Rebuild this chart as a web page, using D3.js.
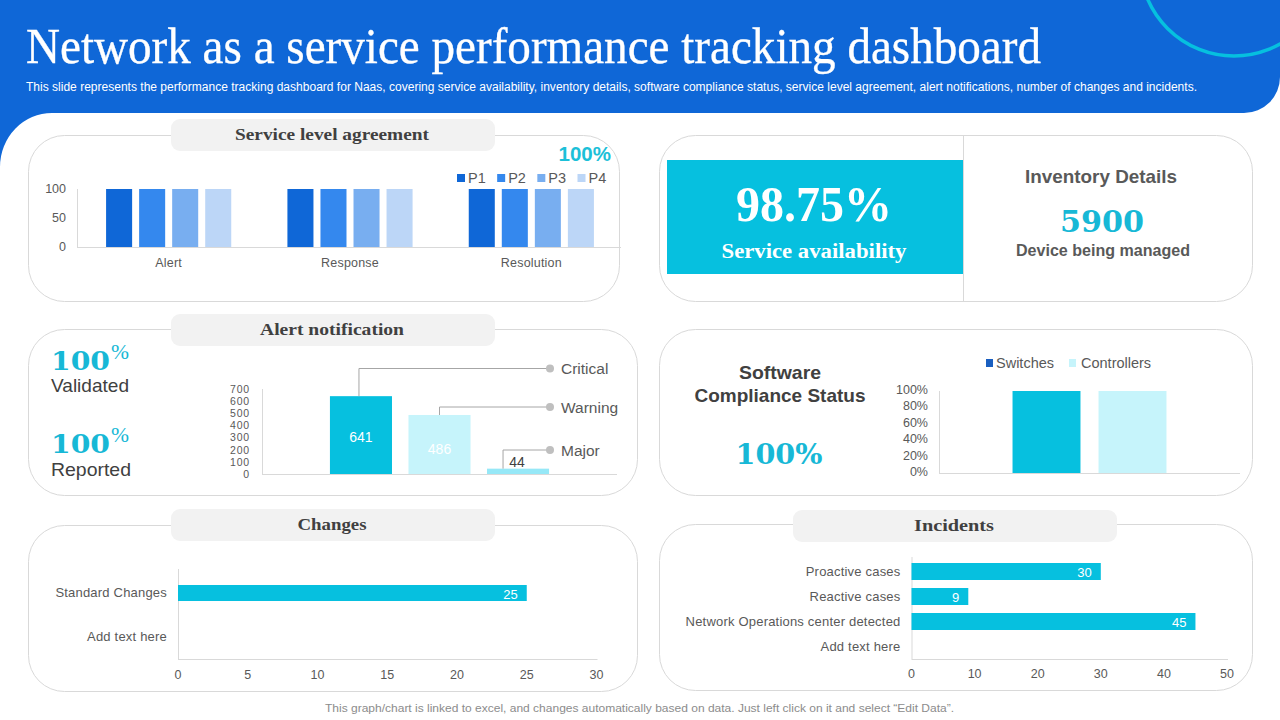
<!DOCTYPE html>
<html>
<head>
<meta charset="utf-8">
<script src="https://cdn.jsdelivr.net/npm/d3@7/dist/d3.min.js"></script>
<style>
html, body { margin: 0; padding: 0; background: #fff; }
svg { display: block; }
text { font-family: "Liberation Sans", sans-serif; }
.serif { font-family: "Liberation Serif", serif; font-weight: 700; }
.deja { font-family: "DejaVu Serif", serif; font-weight: 700; }
.axis path, .axis line { display: none; }
.axis text { font-family: "Liberation Sans", sans-serif; fill: #595959; }
</style>
</head>
<body>
<svg id="chart" width="1280" height="720"></svg>
<script>
const titleText = "Network as a service performance tracking dashboard";
const subtitleText = "This slide represents the performance tracking dashboard for Naas, covering service availability, inventory details, software compliance status, service level agreement, alert notifications, number of changes and incidents.";
const footerText = "This graph/chart is linked to excel,  and changes automatically based on data. Just left click on it and select \u201cEdit Data\u201d.";

const slaCategories = ["Alert", "Response", "Resolution"];
const slaSeries = ["P1", "P2", "P3", "P4"];
const slaValues = [
  [100, 100, 100, 100],
  [100, 100, 100, 100],
  [100, 100, 100, 100]
];
const slaTicks = [0, 50, 100];

const alertLevels = ["Critical", "Warning", "Major"];
const alertValues = [641, 486, 44];
const alertTicks = [0, 100, 200, 300, 400, 500, 600, 700];

const complianceSeries = ["Switches", "Controllers"];
const complianceValues = [100, 100];
const complianceTicks = [0, 20, 40, 60, 80, 100];

const changeCategories = ["Standard Changes", "Add text here"];
const changeValues = [25, null];
const changeTicks = [0, 5, 10, 15, 20, 25, 30];

const incidentCategories = ["Proactive cases", "Reactive cases", "Network Operations center detected", "Add text here"];
const incidentValues = [30, 9, 45, null];
const incidentTicks = [0, 10, 20, 30, 40, 50];

const blue = "#0f67d7", cyan = "#06c0df", paleCyan = "#c6f4fb", midCyan = "#96e8f7";
const slaColors = ["#0f67d7", "#3488ee", "#78aef0", "#bcd6f7"];
const alertColors = [cyan, paleCyan, midCyan];
const lineGrey = "#d9d9d9", textGrey = "#595959", darkGrey = "#404040";

const svg = d3.select("#chart");

// text helper, fit is the width the string should take up
const label = (x, y, str, o = {}) => {
  const t = svg.append("text")
    .attr("x", x).attr("y", y).attr("dy", o.dy ?? ".35em")
    .attr("text-anchor", o.anchor ?? "middle")
    .attr("font-size", o.size ?? 13)
    .attr("fill", o.fill ?? textGrey)
    .attr("font-weight", o.weight ?? 400)
    .text(str);
  if (o.cls) t.attr("class", o.cls);
  if (o.fit) t.attr("textLength", o.fit).attr("lengthAdjust", "spacingAndGlyphs");
  return t;
};

const card = (x, y, w, h) => svg.append("rect")
  .attr("x", x).attr("y", y).attr("width", w).attr("height", h).attr("rx", 36)
  .attr("fill", "#fff").attr("stroke", lineGrey).attr("stroke-width", 1);

const pill = (x, y, str, fit) => {
  svg.append("rect").attr("x", x).attr("y", y).attr("width", 324).attr("height", 32).attr("rx", 9).attr("fill", "#f2f2f2");
  label(x + 161, y + 14.5, str, { cls: "serif", size: 17.5, fill: darkGrey, fit });
};

const hLine = (x1, x2, y) => svg.append("line").attr("x1", x1).attr("x2", x2).attr("y1", y).attr("y2", y).attr("stroke", lineGrey);
const vLine = (x, y1, y2) => svg.append("line").attr("x1", x).attr("x2", x).attr("y1", y1).attr("y2", y2).attr("stroke", lineGrey);

const drawAxis = (gen, tx, ty, size) => svg.append("g")
  .attr("class", "axis")
  .attr("transform", `translate(${tx},${ty})`)
  .call(gen)
  .call(g => g.selectAll("text").attr("font-size", size));

// header
svg.append("path")
  .attr("d", "M0,0 H1280 V77 A36,36 0 0 1 1244,113 H52 A52,54 0 0 0 0,167 Z")
  .attr("fill", blue);
svg.append("circle").attr("cx", 1234).attr("cy", -38).attr("r", 94)
  .attr("fill", "none").attr("stroke", cyan).attr("stroke-width", 3.5);
label(26, 45, titleText, { anchor: "start", size: 51, fill: "#fff", fit: 1015 })
  .style("font-family", "'Liberation Serif', serif")
  .attr("stroke", "#fff").attr("stroke-width", .35);
label(26, 86.5, subtitleText, { anchor: "start", size: 12, fill: "#fff", fit: 1171 });

// cards
card(28.5, 135.5, 591, 166);
card(659.5, 135.5, 593, 166);
card(28.5, 329.5, 609, 166);
card(659.5, 329.5, 593, 166);
card(28.5, 525.5, 609, 166);
card(659.5, 524.5, 593, 166);

pill(171, 119, "Service level agreement", 194);
pill(171, 314, "Alert notification", 144);
pill(171, 509, "Changes", 69);
pill(793, 510, "Incidents", 80);

// service level agreement
{
  const x0 = d3.scaleBand().domain(slaCategories).range([78, 622]);
  const x1 = d3.scaleBand().domain(slaSeries).range([0, x0.bandwidth()]).paddingInner(.212).paddingOuter(.85);
  const y = d3.scaleLinear().domain([0, 100]).range([247, 189]);
  vLine(77.5, 189, 247);
  svg.append("g").selectAll("g").data(slaValues).join("g")
    .attr("transform", (d, i) => `translate(${x0(slaCategories[i])},0)`)
    .selectAll("rect").data(d => d).join("rect")
    .attr("x", (d, i) => x1(slaSeries[i]))
    .attr("width", x1.bandwidth())
    .attr("y", d => y(d))
    .attr("height", d => y(0) - y(d))
    .attr("fill", (d, i) => slaColors[i]);
  hLine(77, 621, 247.5);
  drawAxis(d3.axisLeft(y).tickValues(slaTicks).tickSize(0).tickPadding(11), 77, -1, 12.5);
  drawAxis(d3.axisBottom(x0).tickSize(0).tickPadding(11), 0, 247, 12.5)
    .call(g => g.selectAll("text").style("letter-spacing", ".2px"));

  label(611, 154, "100%", { anchor: "end", size: 20.5, weight: 700, fill: "#1cc0d8" });
  const legendX = d3.scalePoint().domain(slaSeries).range([457, 577.5]);
  slaSeries.forEach((s, i) => {
    svg.append("rect").attr("x", legendX(s)).attr("y", 174).attr("width", 8).attr("height", 8).attr("fill", slaColors[i]);
    label(legendX(s) + 11, 177.5, s, { anchor: "start", size: 14.5 });
  });
}

// service availability and inventory
svg.append("rect").attr("x", 667).attr("y", 160).attr("width", 296).attr("height", 114).attr("fill", cyan);
vLine(963.5, 135.5, 301.5);
label(814, 203, "98.75%", { cls: "serif", size: 50, fill: "#fff", fit: 156 });
label(814, 251, "Service availability", { cls: "serif", size: 20, fill: "#fff", fit: 185 });
label(1101, 177, "Inventory Details", { size: 18.5, weight: 700, fit: 152 });
label(1102, 222, "5900", { cls: "deja", size: 29, fill: "#17b8d6", fit: 84 });
label(1103, 250, "Device being managed", { size: 16, weight: 700, fit: 174 });

// alert notification
{
  const x = d3.scaleBand().domain(alertLevels).range([262, 617]).paddingInner(.21).paddingOuter(.865);
  const y = d3.scaleLinear().domain([0, 700]).range([474, 389]);
  vLine(262.5, 389, 474);
  hLine(262, 617, 474.5);
  svg.append("g").selectAll("rect").data(alertValues).join("rect")
    .attr("x", (d, i) => x(alertLevels[i]))
    .attr("width", x.bandwidth())
    .attr("y", d => y(d))
    .attr("height", d => y(0) - y(d))
    .attr("fill", (d, i) => alertColors[i]);
  // the ticks sit 12px apart, so the font has to stay small enough not to collide
  drawAxis(d3.axisLeft(y).tickValues(alertTicks).tickSize(0).tickPadding(12), 262, 0, 10.5)
    .call(g => g.selectAll("text").style("letter-spacing", ".8px"));

  // leader lines go from the top of the bar to the dot beside each name
  const leaderY = [368.5, 407, 450], leaderShift = [-2, 0, -15];
  alertLevels.forEach((name, i) => {
    const lx = x(name) + x.bandwidth() / 2 + leaderShift[i];
    svg.append("path")
      .attr("d", `M${lx},${y(alertValues[i])} V${leaderY[i]} H550`)
      .attr("fill", "none").attr("stroke", "#a6a6a6");
    svg.append("circle").attr("cx", 550).attr("cy", leaderY[i]).attr("r", 4).attr("fill", "#bfbfbf");
    label(561, leaderY[i] + .5, name, { anchor: "start", size: 15.5 });
  });
  const mid = d => x(d) + x.bandwidth() / 2;
  label(mid(alertLevels[0]), 437, alertValues[0], { size: 14, fill: "#fff" });
  label(mid(alertLevels[1]), 449, alertValues[1], { size: 14, fill: "#fff" });
  label(mid(alertLevels[2]) - 1, 462, alertValues[2], { size: 14, fill: darkGrey });

  label(51, 370, "100", { anchor: "start", dy: 0, cls: "deja", size: 26, fill: "#17b8d6", fit: 59 });
  label(111, 359, "%", { anchor: "start", dy: 0, size: 21, fill: "#17b8d6", fit: 18 }).style("font-family", "'Liberation Serif', serif");
  label(51, 386, "Validated", { anchor: "start", size: 18.5, fill: darkGrey, fit: 78 });
  label(51, 453, "100", { anchor: "start", dy: 0, cls: "deja", size: 26, fill: "#17b8d6", fit: 59 });
  label(111, 442, "%", { anchor: "start", dy: 0, size: 21, fill: "#17b8d6", fit: 18 }).style("font-family", "'Liberation Serif', serif");
  label(51, 470, "Reported", { anchor: "start", size: 18.5, fill: darkGrey, fit: 80 });
}

// software compliance
{
  const x = d3.scaleBand().domain(complianceSeries).range([939, 1240]).paddingInner(.21).paddingOuter(.855);
  const y = d3.scaleLinear().domain([0, 100]).range([473, 391]);
  vLine(939.5, 391, 473);
  hLine(939, 1240, 473.5);
  svg.append("g").selectAll("rect").data(complianceValues).join("rect")
    .attr("x", (d, i) => x(complianceSeries[i]))
    .attr("width", x.bandwidth())
    .attr("y", d => y(d))
    .attr("height", d => y(0) - y(d))
    .attr("fill", (d, i) => [cyan, paleCyan][i]);
  drawAxis(d3.axisLeft(y).tickValues(complianceTicks).tickFormat(d => d + "%").tickSize(0).tickPadding(11), 939, -1.5, 12.5);

  svg.append("rect").attr("x", 986).attr("y", 359).attr("width", 7).attr("height", 8).attr("fill", "#1a5fc0");
  label(996, 363, complianceSeries[0], { anchor: "start", size: 14.5 });
  svg.append("rect").attr("x", 1069).attr("y", 359).attr("width", 7).attr("height", 8).attr("fill", paleCyan);
  label(1081, 363, complianceSeries[1], { anchor: "start", size: 14.5 });

  label(780, 373, "Software", { size: 18.5, weight: 700, fill: darkGrey, fit: 82 });
  label(780, 396, "Compliance Status", { size: 18.5, weight: 700, fill: darkGrey, fit: 171 });
  label(779, 454, "100%", { cls: "deja", size: 28, fill: "#17b8d6", fit: 87 });
}

// horizontal bar panels share the same drawing
const hBars = (cats, vals, ticks, xRange, yRange, padIn, padOut, tickY) => {
  const x = d3.scaleLinear().domain([0, ticks[ticks.length - 1]]).range(xRange);
  const y = d3.scaleBand().domain(cats).range(yRange).paddingInner(padIn).paddingOuter(padOut);
  vLine(xRange[0] + .5, yRange[0] - 2, yRange[1]);
  hLine(xRange[0], xRange[1] + 1, yRange[1] + .5);
  const shown = cats.map((c, i) => ({ c, v: vals[i] })).filter(d => d.v != null);
  svg.append("g").selectAll("rect").data(shown).join("rect")
    .attr("x", x(0))
    .attr("y", d => y(d.c))
    .attr("width", d => x(d.v) - x(0))
    .attr("height", y.bandwidth())
    .attr("fill", cyan);
  shown.forEach(d => label(x(d.v) - 9, y(d.c) + y.bandwidth() / 2 + 1, d.v, { anchor: "end", size: 13, fill: "#fff" }));
  drawAxis(d3.axisLeft(y).tickSize(0).tickPadding(11), xRange[0], 0, 13)
    .call(g => g.selectAll("text").style("letter-spacing", ".2px"));
  drawAxis(d3.axisBottom(x).tickValues(ticks).tickSize(0).tickPadding(tickY), -.5, yRange[1], 12.5);
};

hBars(changeCategories, changeValues, changeTicks, [178, 596.5], [571, 659], .636, .318, 11);
hBars(incidentCategories, incidentValues, incidentTicks, [911.5, 1227], [559, 659], .32, .16, 10);

label(639.5, 708, footerText, { size: 11.5, fill: "#8c8c8c", fit: 629 });
</script>
</body>
</html>
